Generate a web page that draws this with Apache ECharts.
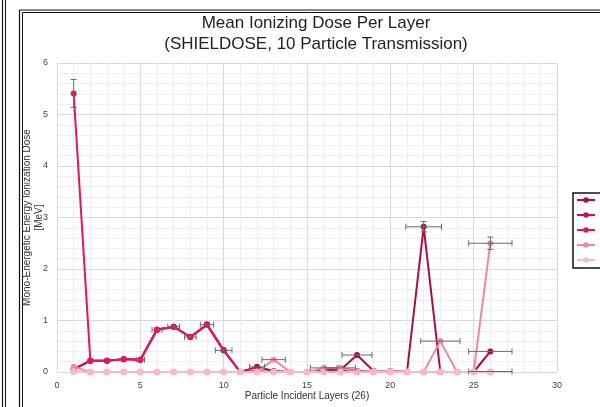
<!DOCTYPE html>
<html>
<head>
<meta charset="utf-8">
<script src="https://cdn.jsdelivr.net/npm/echarts@6/dist/echarts.min.js"></script>
<style>
  html, body { margin: 0; padding: 0; background: #fff; }
  #chart { width: 600px; height: 407px; }
</style>
</head>
<body>
<div id="chart"></div>
<script>
// Incident layers 1..26
const layers = [1,2,3,4,5,6,7,8,9,10,11,12,13,14,15,16,17,18,19,20,21,22,23,24,25,26];

const seriesNames = ['V', 'proton', 'carbon', 'neutron', 'x-ray'];
const seriesColors = ['#a80d46', '#c8124f', '#e6145c', '#f0899b', '#f6b9c5'];

// Mean dose per layer [MeV]
const doseV = [0.05,0.22,0.22,0.25,0.24,0.82,0.88,0.68,0.92,0.42,0,0.1,0.02,0,0,0.02,0.04,0.33,0.02,0.02,0,2.82,0,0,0,0.4];
const doseP = [0.05,0.22,0.22,0.25,0.24,0.82,0.88,0.68,0.92,0.42,0,0.02,0,0,0,0.03,0.08,0.02,0,0,0,0,0,0,0,0];
const doseC = [5.41,0.22,0.22,0.25,0.24,0.82,0.88,0.68,0.92,0.42,0,0,0,0,0,0.02,0.02,0.02,0,0,0,0,0,0,0,0];
const doseN = [0.1,0,0,0,0,0,0,0,0,0,0,0,0.24,0,0,0.08,0.08,0,0.02,0.02,0,0,0.6,0,0,2.5];
const doseX = [0.01,0,0,0,0,0,0,0,0,0,0,0,0,0,0,0,0,0,0,0,0,0,0,0,0,0];

// Error bars: [layer, dose, xErr, yErr]
const errV = [[12,0.1,0.45,0],[18,0.33,0.9,0],[22,2.82,1.07,0.1],[26,0.4,1.3,0]];
const errP = [[16,0.08,0.8,0],[17,0.08,0.9,0]];
const errC = [[1,5.41,0,0.27],[5,0.24,0.25,0],[6,0.82,0.3,0],[7,0.88,0.35,0],[8,0.68,0.35,0],[9,0.92,0.4,0],[10,0.42,0.5,0]];
const errN = [[13,0.24,0.7,0],[23,0.6,1.18,0],[26,2.5,1.3,0.12]];
const errX = [[26,0.01,1.3,0]];

const doses = [doseV, doseP, doseC, doseN, doseX];
const errs = [errV, errP, errC, errN, errX];

const chart = echarts.init(document.getElementById('chart'), null, { renderer: 'canvas' });

function renderErr(params, api) {
  const x = api.value(0), y = api.value(1), ex = api.value(2), ey = api.value(3);
  const children = [];
  const style = { stroke: '#6b6b6b', lineWidth: 1 };
  const cap = 3;
  if (ex > 0) {
    const a = api.coord([x - ex, y]), b = api.coord([x + ex, y]);
    children.push({ type: 'line', shape: { x1: a[0], y1: a[1], x2: b[0], y2: b[1] }, style });
    children.push({ type: 'line', shape: { x1: a[0], y1: a[1] - cap, x2: a[0], y2: a[1] + cap }, style });
    children.push({ type: 'line', shape: { x1: b[0], y1: b[1] - cap, x2: b[0], y2: b[1] + cap }, style });
  }
  if (ey > 0) {
    const a = api.coord([x, y - ey]), b = api.coord([x, y + ey]);
    children.push({ type: 'line', shape: { x1: a[0], y1: a[1], x2: b[0], y2: b[1] }, style });
    children.push({ type: 'line', shape: { x1: a[0] - cap, y1: a[1], x2: a[0] + cap, y2: a[1] }, style });
    children.push({ type: 'line', shape: { x1: b[0] - cap, y1: b[1], x2: b[0] + cap, y2: b[1] }, style });
  }
  return { type: 'group', children };
}

const series = [];
seriesNames.forEach((name, i) => {
  series.push({
    name,
    type: 'line',
    data: layers.map((l, k) => [l, doses[i][k]]),
    symbol: 'circle',
    symbolSize: i === 4 ? 7 : 6,
    showSymbol: true,
    lineStyle: { width: 2, color: seriesColors[i] },
    itemStyle: { color: seriesColors[i] },
    z: 2 + i,
    animation: false
  });
});
seriesNames.forEach((name, i) => {
  series.push({
    type: 'custom',
    name: name + ' err',
    renderItem: renderErr,
    data: errs[i],
    encode: { x: 0, y: 1 },
    z: 10,
    silent: true,
    animation: false
  });
});

const textFont = 'Liberation Sans, Arial, sans-serif';

chart.setOption({
  animation: false,
  backgroundColor: '#fff',
  textStyle: { fontFamily: textFont },
  title: {
    text: 'Mean Ionizing Dose Per Layer\n(SHIELDOSE, 10 Particle Transmission)',
    left: 311,
    top: 8,
    textAlign: 'center',
    textStyle: { fontSize: 17, fontWeight: 'normal', color: '#222', lineHeight: 21, fontFamily: textFont }
  },
  legend: {
    data: seriesNames,
    orient: 'vertical',
    left: 573,
    top: 193,
    padding: [2, 6, 3, 3],
    itemGap: 5,
    itemWidth: 18,
    itemHeight: 7,
    borderColor: '#111',
    borderWidth: 1.5,
    textStyle: { fontSize: 10, color: '#222', fontFamily: textFont }
  },
  grid: { left: 57, right: 43, top: 63, bottom: 35, containLabel: false },
  xAxis: {
    type: 'value',
    min: 0, max: 30, interval: 5,
    name: 'Particle Incident Layers (26)',
    nameLocation: 'middle',
    nameGap: 19,
    nameMoveOverlap: false,
    nameTextStyle: { fontSize: 10, color: '#333', fontFamily: textFont },
    axisLine: { show: true, lineStyle: { color: '#d9d9d9' } },
    axisTick: { show: false },
    axisLabel: { fontSize: 9, color: '#444', margin: 9 },
    splitLine: { show: true, lineStyle: { color: '#d9d9d9', width: 1 } },
    minorTick: { show: false, splitNumber: 5 },
    minorSplitLine: { show: true, lineStyle: { color: '#eeeeee', width: 1 } }
  },
  yAxis: {
    type: 'value',
    min: 0, max: 6, interval: 1,
    name: 'Mono-Energetic Energy Ionization Dose\n[MeV]',
    nameLocation: 'middle',
    nameGap: 12,
    nameMoveOverlap: false,
    nameTextStyle: { fontSize: 10, color: '#333', lineHeight: 12, fontFamily: textFont },
    axisLine: { show: true, lineStyle: { color: '#d9d9d9' } },
    axisTick: { show: false },
    axisLabel: { fontSize: 9, color: '#444', margin: 9 },
    splitLine: { show: true, lineStyle: { color: '#d9d9d9', width: 1 } },
    minorTick: { show: false, splitNumber: 5 },
    minorSplitLine: { show: true, lineStyle: { color: '#eeeeee', width: 1 } }
  },
  graphic: [
    { type: 'line', shape: { x1: 2.5, y1: 0, x2: 2.5, y2: 407 }, style: { stroke: '#111', lineWidth: 1.2 } },
    { type: 'line', shape: { x1: 5.5, y1: 0, x2: 5.5, y2: 407 }, style: { stroke: '#111', lineWidth: 1 } },
    { type: 'line', shape: { x1: 19.5, y1: 10, x2: 19.5, y2: 407 }, style: { stroke: '#111', lineWidth: 1.2 } },
    { type: 'line', shape: { x1: 22.5, y1: 12.5, x2: 22.5, y2: 407 }, style: { stroke: '#111', lineWidth: 1 } },
    { type: 'line', shape: { x1: 19.5, y1: 10, x2: 600, y2: 10 }, style: { stroke: '#111', lineWidth: 1.2 } },
    { type: 'line', shape: { x1: 22.5, y1: 12.5, x2: 600, y2: 12.5 }, style: { stroke: '#111', lineWidth: 1 } }
  ],
  series
});
</script>
</body>
</html>
